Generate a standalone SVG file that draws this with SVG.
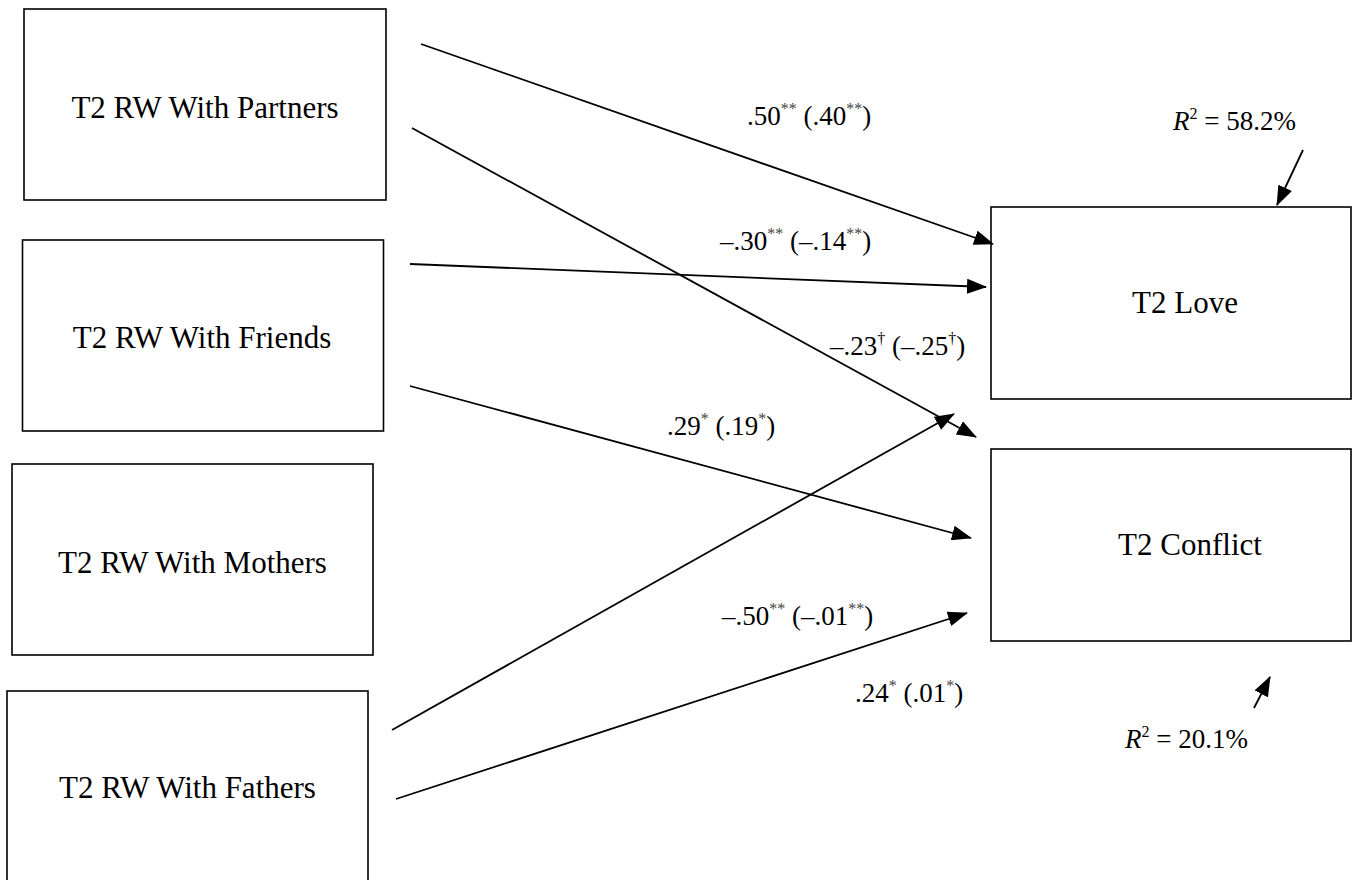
<svg xmlns="http://www.w3.org/2000/svg" width="1355" height="880" viewBox="0 0 1355 880">
<defs>
<style>
.box{fill:#fff;stroke:#000;stroke-width:1.6}
.nl{font-family:'Liberation Serif','Times New Roman',serif;font-size:31px;fill:#000;text-anchor:middle}
.el{font-family:'Liberation Serif','Times New Roman',serif;font-size:27px;fill:#000}
.sup{font-size:16px}
.ast{fill:#444}
.edge{stroke:#000;stroke-width:1.8;fill:none;marker-end:url(#ah)}
</style>
<marker id="ah" viewBox="0 0 20 15" refX="19" refY="7.5" markerWidth="20" markerHeight="15" markerUnits="userSpaceOnUse" orient="auto">
<path d="M0,0 L20,7.5 L0,15 Z" fill="#000"/>
</marker>
</defs>
<rect width="1355" height="880" fill="#fff"/>
<g id="partners"><rect class="box" x="24" y="9" width="362" height="191"/><text class="nl" x="205" y="118">T2 RW With Partners</text></g>
<g id="friends"><rect class="box" x="22.5" y="240" width="361" height="191"/><text class="nl" x="202" y="348">T2 RW With Friends</text></g>
<g id="mothers"><rect class="box" x="12" y="464" width="361" height="191"/><text class="nl" x="192.5" y="573">T2 RW With Mothers</text></g>
<g id="fathers"><rect class="box" x="7" y="691" width="361" height="200"/><text class="nl" x="187.5" y="798">T2 RW With Fathers</text></g>
<g id="love"><rect class="box" x="991" y="207" width="360" height="192"/><text class="nl" x="1185" y="313">T2 Love</text></g>
<g id="conflict"><rect class="box" x="991" y="449" width="360" height="192"/><text class="nl" x="1190" y="555">T2 Conflict</text></g>
<g id="connectors">
<line class="edge" x1="421" y1="44" x2="993" y2="244"/>
<line class="edge" x1="412" y1="128" x2="976" y2="437"/>
<line class="edge" x1="410" y1="264" x2="986" y2="287"/>
<line class="edge" x1="410" y1="386" x2="971" y2="538"/>
<line class="edge" x1="392" y1="730" x2="954" y2="414"/>
<line class="edge" x1="396" y1="799" x2="967" y2="613"/>
<line class="edge" x1="1303" y1="150" x2="1277" y2="205"/>
<line class="edge" x1="1254" y1="708" x2="1270" y2="677"/>
</g>
<g id="labels">
<text class="el" x="747" y="125">.50<tspan class="sup ast" dy="-11">**</tspan><tspan dy="11"> (.40</tspan><tspan class="sup ast" dy="-11">**</tspan><tspan dy="11">)</tspan></text>
<text class="el" x="720" y="250">–.30<tspan class="sup ast" dy="-11">**</tspan><tspan dy="11"> (–.14</tspan><tspan class="sup ast" dy="-11">**</tspan><tspan dy="11">)</tspan></text>
<text class="el" x="830" y="355">–.23<tspan class="sup" dy="-11">†</tspan><tspan dy="11"> (–.25</tspan><tspan class="sup" dy="-11">†</tspan><tspan dy="11">)</tspan></text>
<text class="el" x="667" y="435">.29<tspan class="sup ast" dy="-11">*</tspan><tspan dy="11"> (.19</tspan><tspan class="sup ast" dy="-11">*</tspan><tspan dy="11">)</tspan></text>
<text class="el" x="722" y="625">–.50<tspan class="sup ast" dy="-11">**</tspan><tspan dy="11"> (–.01</tspan><tspan class="sup ast" dy="-11">**</tspan><tspan dy="11">)</tspan></text>
<text class="el" x="855" y="702">.24<tspan class="sup ast" dy="-11">*</tspan><tspan dy="11"> (.01</tspan><tspan class="sup ast" dy="-11">*</tspan><tspan dy="11">)</tspan></text>
<text class="el" x="1173" y="130"><tspan font-style="italic">R</tspan><tspan class="sup" dy="-11">2</tspan><tspan dy="11"> = 58.2%</tspan></text>
<text class="el" x="1125" y="748"><tspan font-style="italic">R</tspan><tspan class="sup" dy="-11">2</tspan><tspan dy="11"> = 20.1%</tspan></text>
</g>
</svg>
